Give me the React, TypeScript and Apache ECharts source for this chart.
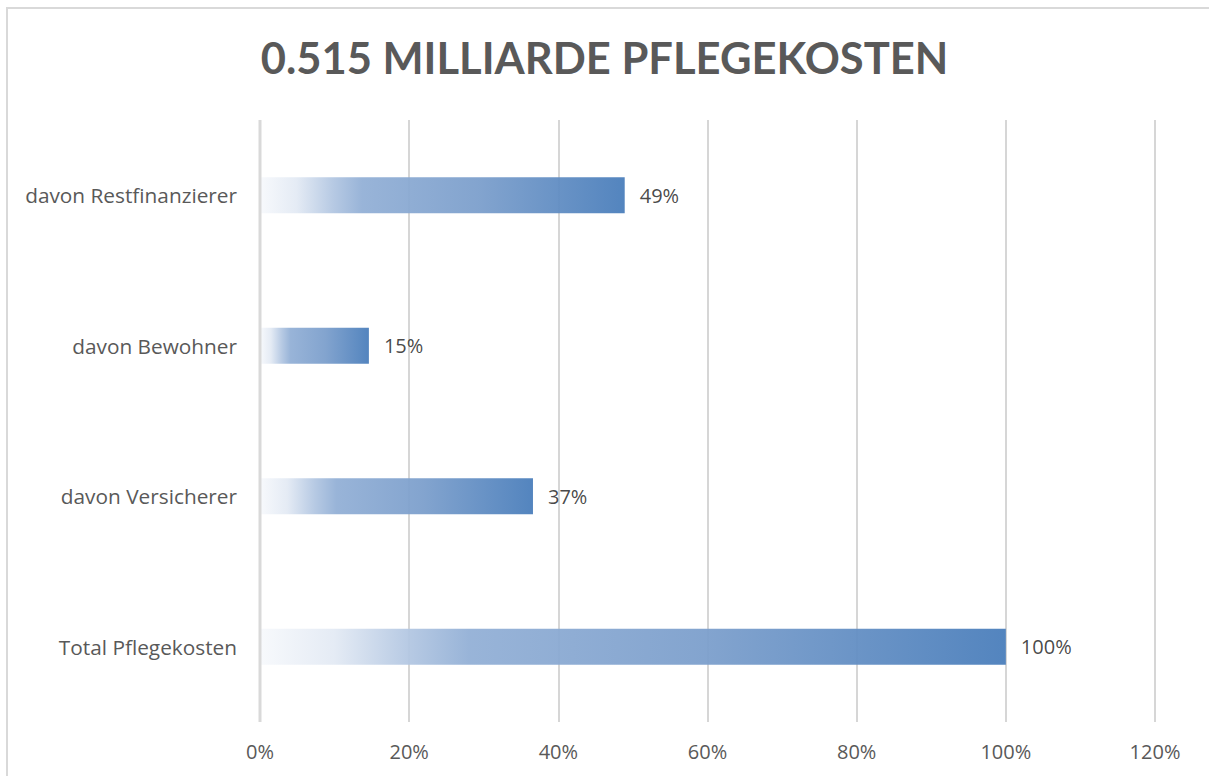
import React, { useEffect, useRef } from "react";
import * as echarts from "echarts";

const categories = ["Total Pflegekosten", "davon Versicherer", "davon Bewohner", "davon Restfinanzierer"];
const values = [1.0, 0.366, 0.146, 0.489];
const xTicks = [0, 0.2, 0.4, 0.6, 0.8, 1.0, 1.2];
const titleText = "0.515 MILLIARDE PFLEGEKOSTEN";

const TITLE_FONT = "Lato, 'Open Sans', sans-serif";
const FONT = "'Open Sans', Lato, sans-serif";

export default function App() {
  const ref = useRef<HTMLDivElement>(null);
  useEffect(() => {
    document.body.style.margin = "0";
    const chart = echarts.init(ref.current!, null, { renderer: "svg" });
    const gradient = new echarts.graphic.LinearGradient(0, 0, 1, 0, [
      { offset: 0, color: "#f7f9fc" },
      { offset: 0.1, color: "#e3eaf4" },
      { offset: 0.2, color: "#b3c7e2" },
      { offset: 0.28, color: "#93b0d6" },
      { offset: 0.6, color: "#7c9fcc" },
      { offset: 1, color: "#4a7ebb" },
    ]);
    chart.setOption({
      animation: false,
      backgroundColor: "#ffffff",
      title: {
        text: titleText,
        left: "center",
        top: 30,
        textStyle: { fontFamily: TITLE_FONT, fontWeight: "bold", fontSize: 43.5, color: "#595959" },
      },
      graphic: [
        {
          type: "rect",
          shape: { x: 7, y: 8, width: 1400, height: 1000 },
          style: { fill: "none", stroke: "#d9d9d9", lineWidth: 2 },
          silent: true,
        },
        {
          type: "line",
          shape: { x1: 260, y1: 120, x2: 260, y2: 722 },
          style: { stroke: "#d9d9d9", lineWidth: 3 },
          z: 10,
          silent: true,
        },
      ],
      grid: { left: 260, right: 54, top: 120, bottom: 54, containLabel: false },
      xAxis: {
        type: "value",
        min: xTicks[0],
        max: xTicks[xTicks.length - 1],
        interval: 0.2,
        axisLine: { show: false },
        axisTick: { show: false },
        splitLine: { lineStyle: { color: "#c8c8c8", width: 1.5 } },
        axisLabel: {
          margin: 19,
          fontFamily: FONT,
          fontSize: 20,
          color: "#595959",
          formatter: (v: number) => Math.round(v * 100) + "%",
        },
      },
      yAxis: {
        type: "category",
        data: categories,
        axisLine: { show: false },
        axisTick: { show: false },
        axisLabel: { margin: 23, fontFamily: FONT, fontSize: 20.8, color: "#595959" },
      },
      series: [
        {
          type: "bar",
          data: values,
          barWidth: 36,
          itemStyle: { color: gradient, opacity: 0.95 },
          label: {
            show: true,
            position: "right",
            distance: 15,
            fontFamily: FONT,
            fontSize: 20,
            color: "#404040",
            formatter: (p: any) => Math.round(p.value * 100) + "%",
          },
        },
      ],
    });
    return () => chart.dispose();
  }, []);
  return <div ref={ref} style={{ width: 1209, height: 776 }} />;
}
